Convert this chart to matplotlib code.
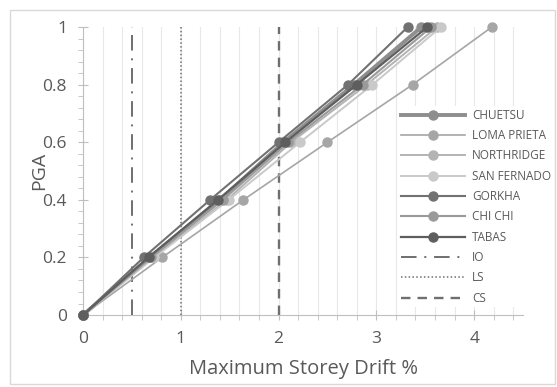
import matplotlib.pyplot as plt
from matplotlib.patches import Rectangle
from matplotlib.ticker import MultipleLocator, FuncFormatter

plt.rcParams['font.family'] = ['Open Sans', 'DejaVu Sans']

# PGA levels and drift
pga = [0, 0.2, 0.4, 0.6, 0.8, 1.0]

chuetsu     = [0, 0.68, 1.40, 2.05, 2.77, 3.46]
loma_prieta = [0, 0.81, 1.64, 2.50, 3.37, 4.18]
northridge  = [0, 0.72, 1.47, 2.13, 2.90, 3.62]
san_fernado = [0, 0.73, 1.49, 2.22, 2.96, 3.66]
gorkha      = [0, 0.62, 1.30, 2.00, 2.71, 3.32]
chi_chi     = [0, 0.70, 1.43, 2.10, 2.86, 3.56]
tabas       = [0, 0.67, 1.38, 2.07, 2.80, 3.52]

# performance limits (drift %)
io_limit = 0.5
ls_limit = 1.0
cs_limit = 2.0

fig = plt.figure(figsize=(5.57, 3.87), dpi=100)
ax = fig.add_axes([0.149, 0.186, 0.790, 0.744])

# light frame round the whole chart
fig.patches.append(Rectangle((10/557, 3/387), 545/557, 374/387, transform=fig.transFigure,
                             fill=False, edgecolor="#d9d9d9", linewidth=1))

series = [
    ("CHUETSU",     chuetsu,     "#8e8e8e", 2.8),
    ("LOMA PRIETA", loma_prieta, "#a6a6a6", 1.2),
    ("NORTHRIDGE",  northridge,  "#b3b3b3", 1.4),
    ("SAN FERNADO", san_fernado, "#c9c9c9", 1.4),
    ("GORKHA",      gorkha,      "#717171", 1.5),
    ("CHI CHI",     chi_chi,     "#9a9a9a", 1.5),
    ("TABAS",       tabas,       "#5e5e5e", 1.6),
]
for name, drift, color, lw in series:
    ax.plot(drift, pga, "-o", color=color, linewidth=lw, markersize=6.5,
            label=name, clip_on=False, zorder=3)

ax.axvline(io_limit, color="#6f6f6f", linestyle=(0, (8, 4, 1, 4)), linewidth=1.4, label="IO", zorder=2)
ax.axvline(ls_limit, color="#6f6f6f", linestyle=(0, (1, 1.5)), linewidth=1.1, label="LS", zorder=2)
ax.axvline(cs_limit, color="#6f6f6f", linestyle=(0, (4, 3)), linewidth=1.7, label="CS", zorder=2)

ax.set_xlim(0, 4.5)
ax.set_ylim(0, 1)
ax.xaxis.set_major_locator(MultipleLocator(1))
ax.xaxis.set_minor_locator(MultipleLocator(0.2))
ax.yaxis.set_major_locator(MultipleLocator(0.2))
ax.yaxis.set_minor_locator(MultipleLocator(0.04))
ax.yaxis.set_major_formatter(FuncFormatter(lambda v, p: f"{v:g}"))

ax.grid(True, which="both", axis="x", color="#e8e8e8", linewidth=0.8, zorder=0)
ax.set_axisbelow(True)

for s in ["top", "right"]:
    ax.spines[s].set_visible(False)
for s in ["left", "bottom"]:
    ax.spines[s].set_color("#bfbfbf")
ax.tick_params(which="both", colors="#bfbfbf", labelcolor="#595959")
ax.tick_params(which="major", direction="inout", length=7, labelsize=12.5)
ax.tick_params(which="minor", direction="out", length=3.5)
ax.tick_params(axis="x", which="major", pad=8)
ax.tick_params(axis="y", which="major", pad=8)

ax.set_xlabel("Maximum Storey Drift %", fontsize=14.5, color="#595959", labelpad=9)
ax.set_ylabel("PGA", fontsize=14, color="#595959", labelpad=-4)

leg = ax.legend(loc="upper left", bbox_to_anchor=(0.705, 0.745), frameon=True, fontsize=8.5,
                handlelength=5.4, labelspacing=0.62, borderpad=0.2, handletextpad=0.6)
leg.get_frame().set_edgecolor("none")
leg.get_frame().set_facecolor("white")
leg.get_frame().set_alpha(1)
for t in leg.get_texts():
    t.set_color("#595959")

plt.savefig("out.png", dpi=100)
plt.close()
